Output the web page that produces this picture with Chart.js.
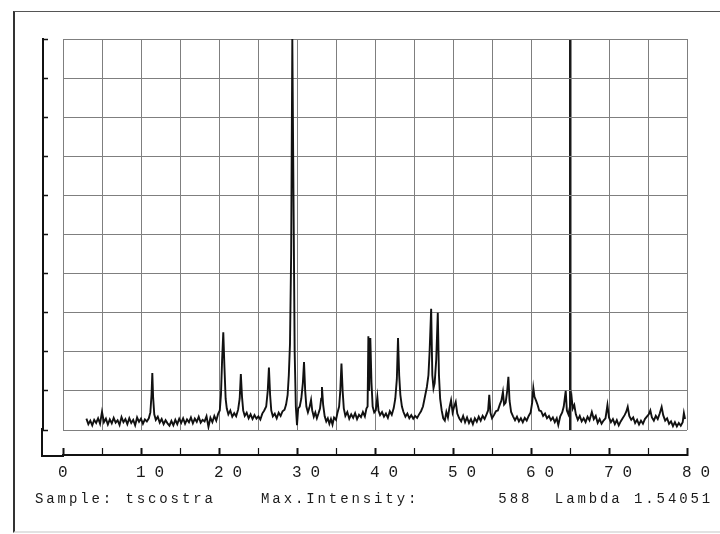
<!DOCTYPE html>
<html lang="it">
<head>
<meta charset="UTF-8" />
<title>Diffrattogramma tscostra</title>
<script src="https://cdn.jsdelivr.net/npm/chart.js"></script>
<style>
  body { margin: 0; background: #fff; }
  .pagina { position: relative; width: 720px; height: 534px; overflow: hidden; }
  .cornice {
    position: absolute; left: 13px; top: 11px; right: -4px; bottom: 1px;
    border-top: 1px solid #555; border-left: 2px solid #333; border-bottom: 2px solid #e2e2e2;
  }
  canvas { position: absolute; left: 0; top: 0; }
</style>
</head>
<body>
<div class="pagina">
  <div class="cornice"></div>
  <canvas id="grafico" width="720" height="534"></canvas>
</div>

<script>
var twoTheta = [
  3.00, 3.25, 3.50, 3.75, 4.00, 4.25, 4.50, 4.75, 5.00, 5.25,
  5.50, 5.75, 6.00, 6.25, 6.50, 6.75, 7.00, 7.25, 7.50, 7.75,
  8.00, 8.25, 8.50, 8.75, 9.00, 9.25, 9.50, 9.75, 10.00, 10.25,
  10.50, 10.75, 11.00, 11.20, 11.35, 11.45, 11.55, 11.70, 11.90, 12.15,
  12.40, 12.65, 12.90, 13.15, 13.40, 13.65, 13.90, 14.15, 14.40, 14.65,
  14.90, 15.15, 15.40, 15.65, 15.90, 16.15, 16.40, 16.65, 16.90, 17.15,
  17.40, 17.65, 17.90, 18.15, 18.40, 18.65, 18.90, 19.15, 19.40, 19.65,
  19.90, 20.10, 20.25, 20.40, 20.55, 20.70, 20.85, 21.00, 21.20, 21.45,
  21.70, 21.95, 22.20, 22.45, 22.65, 22.80, 22.95, 23.10, 23.30, 23.55,
  23.80, 24.05, 24.30, 24.55, 24.80, 25.05, 25.30, 25.55, 25.80, 26.05,
  26.25, 26.40, 26.55, 26.70, 26.90, 27.15, 27.40, 27.65, 27.90, 28.15,
  28.40, 28.60, 28.80, 28.95, 29.10, 29.25, 29.40, 29.55, 29.70, 29.85,
  30.00, 30.15, 30.35, 30.55, 30.75, 30.90, 31.05, 31.20, 31.40, 31.60,
  31.80, 31.95, 32.15, 32.35, 32.55, 32.75, 32.95, 33.10, 33.20, 33.35,
  33.55, 33.75, 33.95, 34.15, 34.35, 34.55, 34.75, 35.00, 35.20, 35.40,
  35.55, 35.70, 35.85, 36.00, 36.20, 36.45, 36.70, 36.95, 37.20, 37.45,
  37.70, 37.95, 38.20, 38.45, 38.70, 38.90, 39.05, 39.15, 39.25, 39.40,
  39.55, 39.70, 39.90, 40.10, 40.30, 40.45, 40.65, 40.90, 41.15, 41.40,
  41.65, 41.90, 42.15, 42.40, 42.60, 42.80, 42.95, 43.10, 43.25, 43.45,
  43.65, 43.90, 44.15, 44.40, 44.65, 44.90, 45.15, 45.40, 45.65, 45.90,
  46.15, 46.40, 46.65, 46.85, 47.00, 47.20, 47.35, 47.50, 47.65, 47.85,
  48.05, 48.20, 48.35, 48.55, 48.75, 48.95, 49.15, 49.35, 49.55, 49.75,
  49.95, 50.15, 50.35, 50.55, 50.80, 51.05, 51.30, 51.55, 51.80, 52.05,
  52.30, 52.55, 52.80, 53.05, 53.30, 53.55, 53.80, 54.05, 54.30, 54.50,
  54.65, 54.80, 55.00, 55.25, 55.50, 55.75, 56.00, 56.20, 56.40, 56.55,
  56.75, 56.95, 57.10, 57.25, 57.45, 57.70, 57.95, 58.20, 58.45, 58.70,
  58.95, 59.20, 59.45, 59.70, 59.95, 60.15, 60.30, 60.45, 60.65, 60.85,
  61.05, 61.30, 61.55, 61.80, 62.05, 62.30, 62.55, 62.80, 63.05, 63.30,
  63.50, 63.75, 64.00, 64.20, 64.45, 64.60, 64.80, 65.00, 65.20, 65.35,
  65.55, 65.75, 66.00, 66.25, 66.50, 66.75, 67.00, 67.25, 67.50, 67.80,
  68.05, 68.30, 68.55, 68.80, 69.05, 69.30, 69.55, 69.80, 70.00, 70.25,
  70.50, 70.75, 71.00, 71.25, 71.50, 71.75, 72.00, 72.20, 72.40, 72.60,
  72.85, 73.10, 73.35, 73.60, 73.85, 74.10, 74.35, 74.60, 74.85, 75.10,
  75.30, 75.50, 75.75, 76.00, 76.25, 76.50, 76.75, 76.95, 77.20, 77.45,
  77.70, 77.95, 78.20, 78.45, 78.70, 78.95, 79.20, 79.45, 79.60, 79.75
];

var intensita = [
  2.9, 1.5, 2.4, 1.2, 2.6, 1.8, 3.0, 1.6, 4.6, 2.0,
  2.9, 1.4, 2.7, 1.7, 3.1, 1.9, 2.5, 1.3, 3.3, 2.0,
  2.8, 1.5, 3.0, 1.8, 2.6, 1.2, 3.2, 2.1, 2.9, 1.6,
  2.7, 2.2, 3.0, 4.5, 9.0, 14.6, 8.5, 4.0, 2.6, 3.4,
  1.9, 2.8, 1.5, 2.5, 1.7, 1.1, 2.3, 1.2, 2.6, 1.5,
  2.9, 1.8, 3.0, 1.6, 2.7, 2.0, 3.2, 1.7, 2.9, 2.1,
  3.4, 1.9, 2.6, 2.2, 3.5, 0.8, 3.1, 2.0, 3.6, 2.4,
  4.2, 5.0, 9.0, 18.0, 25.0, 16.0, 8.0, 5.5, 4.0, 5.0,
  3.4, 4.3, 3.5, 5.2, 8.0, 14.3, 8.5, 5.0, 3.6, 4.4,
  3.0, 4.0, 2.8, 3.8, 2.9, 3.5, 2.7, 4.2, 5.0, 6.0,
  10.0, 16.0, 9.0, 5.0, 3.5, 4.2, 3.0, 4.4, 3.6, 4.8,
  5.2, 6.5, 9.0, 14.0, 22.0, 45.0, 100, 60.0, 20.0, 6.0,
  1.2, 5.5, 6.0, 8.0, 12.0, 17.4, 10.0, 6.0, 4.5, 5.8,
  7.7, 5.0, 3.4, 4.5, 3.0, 4.2, 5.5, 8.0, 11.0, 6.5,
  3.5, 2.2, 3.0, 1.6, 2.8, 1.4, 3.2, 2.6, 4.5, 6.0,
  10.0, 17.0, 10.0, 5.5, 3.6, 4.6, 2.9, 4.0, 3.1, 4.3,
  2.8, 3.9, 3.3, 4.6, 3.5, 5.5, 6.0, 24.0, 10.0, 23.5,
  12.0, 6.0, 4.5, 5.0, 8.4, 5.0, 3.8, 4.6, 3.4, 4.2,
  3.1, 4.8, 3.9, 5.6, 8.0, 13.0, 23.5, 14.0, 9.0, 6.0,
  4.6, 3.4, 4.2, 3.0, 3.8, 2.9, 3.6, 3.1, 4.0, 4.8,
  6.0, 8.5, 11.0, 14.0, 20.0, 31.0, 14.0, 10.7, 12.0, 18.0,
  30.0, 14.0, 8.0, 5.0, 3.0, 2.4, 4.6, 3.2, 5.8, 7.6,
  4.5, 6.0, 7.2, 4.2, 3.0, 2.2, 3.6, 2.0, 3.2, 1.8,
  2.8, 1.5, 3.0, 2.1, 3.4, 2.4, 3.6, 2.8, 4.0, 5.0,
  9.0, 4.4, 3.0, 3.8, 4.8, 5.0, 6.5, 7.5, 9.7, 6.5,
  7.0, 10.0, 13.6, 7.5, 4.6, 3.5, 2.5, 3.4, 2.2, 3.0,
  2.0, 3.1, 2.4, 3.6, 4.5, 7.0, 10.7, 8.5, 7.5, 6.4,
  5.0, 4.8, 3.6, 4.2, 3.0, 3.6, 2.5, 3.2, 2.0, 3.0,
  1.3, 3.5, 4.5, 6.0, 10.0, 5.0, 4.0, 6.0, 8.5, 5.5,
  6.4, 4.0, 2.6, 3.6, 2.2, 3.0, 2.0, 3.4, 2.5, 4.6,
  2.8, 3.6, 1.8, 2.8, 1.6, 2.4, 3.0, 6.4, 3.2, 2.0,
  2.8, 1.5, 2.5, 1.2, 2.2, 3.0, 3.8, 4.6, 5.9, 3.6,
  2.6, 3.2, 1.8, 2.6, 1.4, 2.4, 1.6, 2.8, 3.4, 4.0,
  5.0, 3.2, 2.4, 3.6, 2.8, 4.2, 5.9, 3.8, 2.4, 3.0,
  1.6, 2.2, 1.0, 2.0, 0.9, 1.8, 1.1, 2.0, 4.3, 2.8
];

var etichetteX = [0, 10, 20, 30, 40, 50, 60, 70, 80];
var didascalia = "Sample: tscostra    Max.Intensity:       588  Lambda 1.54051";

var punti = twoTheta.map(function (t, i) {
  return { x: t, y: intensita[i] };
});

// spaziatura larga dei caratteri come nello stampato originale
var spaziatura = {
  id: "spaziatura",
  beforeDraw: function (chart) {
    chart.ctx.letterSpacing = "9px";
  }
};

// angolo degli assi a L e riga di testo in fondo
var cornice = {
  id: "cornice",
  afterDraw: function (chart) {
    var ctx = chart.ctx;
    var y2 = chart.scales.y2;
    var x2 = chart.scales.x2;
    ctx.save();
    ctx.strokeStyle = "#111";
    ctx.lineWidth = 2;
    ctx.beginPath();
    ctx.moveTo(y2.right - 1, y2.bottom - 2);
    ctx.lineTo(y2.right - 1, x2.top + 1);
    ctx.lineTo(x2.left + 1, x2.top + 1);
    ctx.stroke();

    ctx.letterSpacing = "2.9px";
    ctx.font = "14px 'Liberation Mono'";
    ctx.fillStyle = "#1a1a1a";
    ctx.textAlign = "left";
    ctx.textBaseline = "middle";
    ctx.fillText(didascalia, 35, x2.top + 44);
    ctx.restore();
  }
};

function coloreGriglia(c) {
  return c.tick && c.tick.value === 65 ? "#1a1a1a" : "#7f7f7f";
}
function spessoreGriglia(c) {
  return c.tick && c.tick.value === 65 ? 2.5 : 1;
}

new Chart(document.getElementById("grafico"), {
  type: "line",
  data: {
    datasets: [
      {
        data: punti,
        borderColor: "#111",
        borderWidth: 1.9,
        pointRadius: 0,
        tension: 0,
        fill: false
      }
    ]
  },
  plugins: [spaziatura, cornice],
  options: {
    responsive: false,
    animation: false,
    devicePixelRatio: 1,
    layout: { padding: { top: 39, right: 33, left: 0, bottom: 0 } },
    plugins: {
      legend: { display: false },
      tooltip: { enabled: false }
    },
    scales: {
      x: {
        type: "linear",
        position: "bottom",
        min: 0,
        max: 80,
        ticks: { stepSize: 5, display: false },
        grid: { color: coloreGriglia, lineWidth: spessoreGriglia, drawTicks: false },
        border: { display: false },
        afterFit: function (s) { s.height = 25; }
      },
      x2: {
        type: "linear",
        axis: "x",
        position: "bottom",
        weight: 1,
        min: 0,
        max: 80,
        ticks: {
          stepSize: 5,
          autoSkip: false,
          maxRotation: 0,
          align: "start",
          labelOffset: -5,
          padding: 15,
          color: "#1a1a1a",
          font: { family: "'Liberation Mono'", size: 16 },
          callback: function (v) {
            return etichetteX.indexOf(v) >= 0 ? String(v) : "";
          }
        },
        grid: {
          drawOnChartArea: false,
          tickLength: -7,
          tickColor: "#111",
          tickWidth: function (c) {
            return c.tick && etichetteX.indexOf(c.tick.value) >= 0 ? 2 : 1.2;
          }
        },
        border: { display: true, color: "#111", width: 2 },
        afterFit: function (s) {
          s.height = 79;
          s.paddingLeft = 0;
          s.paddingRight = 0;
        }
      },
      y: {
        type: "linear",
        position: "left",
        min: 0,
        max: 100,
        ticks: { stepSize: 10, display: false },
        grid: { color: "#7f7f7f", lineWidth: 1, drawTicks: false },
        border: { display: false },
        afterFit: function (s) { s.width = 20; }
      },
      y2: {
        type: "linear",
        axis: "y",
        position: "left",
        weight: 1,
        min: 0,
        max: 100,
        ticks: { stepSize: 10, display: false },
        grid: { drawOnChartArea: false, tickLength: -5, tickColor: "#111", tickWidth: 1.5 },
        border: { display: true, color: "#111", width: 2 },
        afterFit: function (s) { s.width = 43; }
      }
    }
  }
});
</script>
</body>
</html>
